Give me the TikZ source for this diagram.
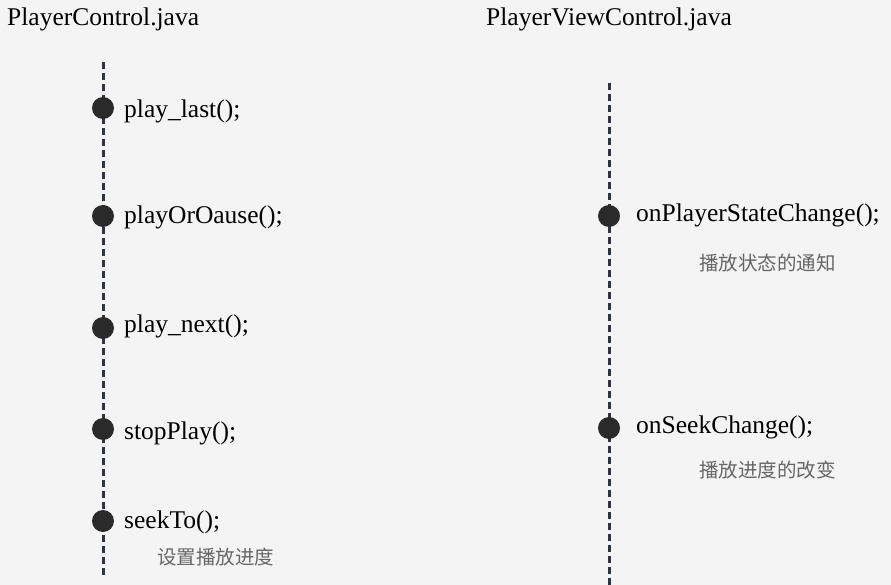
\documentclass[tikz,border=0pt]{standalone}
\usepackage{fontspec}
\setmainfont{Liberation Serif}
\newfontfamily\cjk{Noto Sans CJK SC}
\definecolor{bgc}{HTML}{F4F4F4}
\definecolor{linec}{HTML}{2B3544}
\definecolor{dotc}{HTML}{2A2A2A}
\definecolor{notec}{HTML}{666666}
\begin{document}
\begin{tikzpicture}[x=1pt,y=-1pt,
  life/.style={draw=linec,line width=3pt,dash pattern=on 7pt off 4pt},
  dotn/.style={circle,fill=dotc,minimum size=22pt,inner sep=0pt},
  meth/.style={anchor=base west,inner sep=0pt,font=\fontsize{25.5}{28}\selectfont,text=black},
  title/.style={anchor=base west,inner sep=0pt,font=\fontsize{25.5}{28}\selectfont,text=black},
  note/.style={anchor=base west,inner sep=0pt,font=\cjk\fontsize{19.5}{22}\selectfont,text=notec}]
\fill[bgc] (0,0) rectangle (891,585);
\useasboundingbox (0,0) rectangle (891,585);
\node[title] (t1) at (7,26) {PlayerControl.java};
\node[title] (t2) at (486,26) {PlayerViewControl.java};
\coordinate (l1top) at (103,62);
\coordinate (l1bot) at (103,578);
\coordinate (l2top) at (609,83);
\coordinate (l2bot) at (609,585);
\draw[life] (l1top) -- (l1bot);
\draw[life] (l2top) -- (l2bot);
\node[dotn] (d1) at (103,108) {};
\node[dotn] (d2) at (103,216) {};
\node[dotn] (d3) at (103,328) {};
\node[dotn] (d4) at (103,429) {};
\node[dotn] (d5) at (103,521) {};
\node[dotn] (d6) at (609,216) {};
\node[dotn] (d7) at (609,428) {};
\node[meth] (m1) at (124,118) {play\_last();};
\node[meth] (m2) at (124,224) {playOrOause();};
\node[meth] (m3) at (124,332) {play\_next();};
\node[meth] (m4) at (124,439) {stopPlay();};
\node[meth] (m5) at (124,528) {seekTo();};
\node[meth] (m6) at (636,222) {onPlayerStateChange();};
\node[meth] (m7) at (636,433) {onSeekChange();};
\node[note] (n1) at (157,564) {设置播放进度};
\node[note] (n2) at (699,271) {播放状态的通知};
\node[note] (n3) at (699,477) {播放进度的改变};
\end{tikzpicture}
\end{document}
